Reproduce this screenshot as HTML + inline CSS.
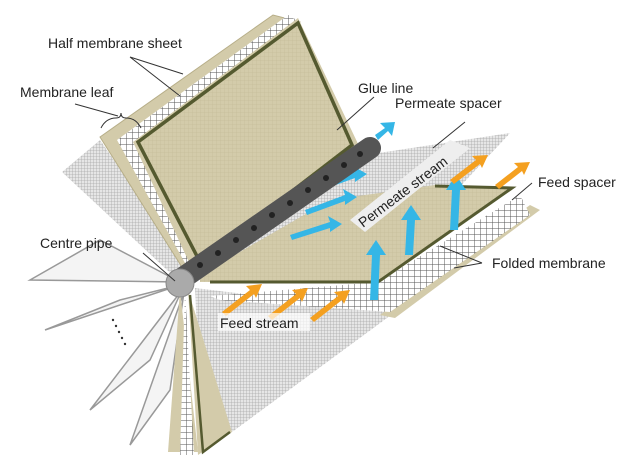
<!DOCTYPE html>
<html><head><meta charset="utf-8"><style>
body{margin:0;background:#fff}
svg{display:block}
text{font-family:"Liberation Sans",sans-serif;font-size:14px;fill:#222}
</style></head><body>
<svg width="639" height="473" viewBox="0 0 639 473">
<defs>
<pattern id="g" width="3" height="3" patternUnits="userSpaceOnUse"><rect width="3" height="3" fill="#e6e6e6"/><path d="M0 0H3M0 0V3" stroke="#aaa" stroke-width="0.8"/></pattern>
<pattern id="c" width="6" height="6" patternUnits="userSpaceOnUse"><rect width="6" height="6" fill="#fff"/><path d="M0 0H6M0 0V6" stroke="#555" stroke-width="1"/></pattern>
<pattern id="t" width="4" height="4" patternUnits="userSpaceOnUse"><rect width="4" height="4" fill="#d3cbaa"/><path d="M0 0H4M0 0V4" stroke="#c2b994" stroke-width="0.6"/></pattern>
</defs>
<g fill="#f4f4f4" stroke="#999" stroke-width="1.5">
<polygon points="180,282 30,280 100,240"/>
<polygon points="180,285 45,330 120,300"/>
<polygon points="182,290 90,410 150,360"/>
<polygon points="184,292 130,445 170,390"/>
</g>
<polygon points="62,172 100,140 190,270 180,282" fill="url(#g)"/>
<polygon points="100,137 273,15 300,22 185,272" fill="#d3cbaa" stroke="#b7ae88"/>
<polygon points="117,140 288,15 300,22 190,272" fill="url(#c)"/>
<polygon points="133,142 298,18 360,148 195,275" fill="#d3cbaa"/>
<polygon points="138,142 298,23 352,145 200,262" fill="url(#t)" stroke="#555a30" stroke-width="3.5"/>
<polygon points="200,280 365,155 510,133 410,240 200,282" fill="url(#g)"/>
<polygon points="195,288 395,312 232,432 200,400" fill="url(#g)"/>
<polygon points="380,315 530,205 540,210 395,318" fill="#d3cbaa"/>
<polygon points="210,296 378,282 520,195 530,215 390,312 220,300" fill="url(#c)"/>
<polygon points="200,282 378,282 510,188 435,185 330,200 200,275" fill="url(#t)"/>
<polyline points="210,282 378,282 512,188 435,186" fill="none" stroke="#555a30" stroke-width="3"/>
<polygon points="180,290 168,452 198,452" fill="#d3cbaa"/>
<polygon points="185,290 180,455 194,455" fill="url(#c)"/>
<polygon points="188,290 198,455 232,432" fill="#d3cbaa"/>
<polyline points="190,295 203,452 230,432" fill="none" stroke="#555a30" stroke-width="2.5"/>
<polygon points="350,220 450,140 470,148 365,232" fill="#eee"/>
<text x="0" y="0" transform="translate(363,228) rotate(-37)">Permeate stream</text>
<g fill="#35b6e6">
<polygon points="375,135 385,128 380,123 395,122 392,136 388,131 378,140"/>
<polygon points="290,235 330,222 328,216 342,224 330,232 330,228 292,240"/>
<polygon points="305,210 345,195 343,189 357,197 345,205 345,201 307,215"/>
<polygon points="320,185 355,172 353,166 367,174 355,182 355,178 322,190"/>
<polygon points="370,300 372,255 366,255 376,240 386,255 380,255 378,300"/>
<polygon points="405,255 407,220 401,220 411,205 421,220 415,220 413,255"/>
<polygon points="450,230 452,190 446,190 456,175 466,190 460,190 458,230"/>
</g>
<g fill="#f4a020">
<polygon points="222,312 250,290 246,286 262,284 256,298 254,294 226,316"/>
<polygon points="268,316 296,294 292,290 308,288 302,302 300,298 272,320"/>
<polygon points="310,318 338,296 334,292 350,290 344,304 342,300 314,322"/>
<polygon points="450,180 476,160 472,156 488,155 482,168 480,164 454,184"/>
<polygon points="495,185 518,167 514,163 530,162 524,175 522,171 499,189"/>
</g>
<line x1="180" y1="280" x2="370" y2="148" stroke="#555" stroke-width="22" stroke-linecap="round"/>
<g fill="#222"><circle cx="200" cy="265" r="3"/><circle cx="218" cy="253" r="3"/><circle cx="236" cy="240" r="3"/><circle cx="254" cy="228" r="3"/><circle cx="272" cy="215" r="3"/><circle cx="290" cy="203" r="3"/><circle cx="308" cy="190" r="3"/><circle cx="326" cy="178" r="3"/><circle cx="344" cy="165" r="3"/><circle cx="360" cy="154" r="3"/></g>
<circle cx="180" cy="283" r="14" fill="#aaa" stroke="#888"/>
<g fill="#333"><circle cx="113" cy="320" r="1.2"/><circle cx="116" cy="326" r="1.2"/><circle cx="119" cy="332" r="1.2"/><circle cx="122" cy="338" r="1.2"/><circle cx="125" cy="344" r="1.2"/></g>
<g stroke="#333" stroke-width="1" fill="none">
<path d="M130 57 L183 74 M130 57 L180 96"/>
<path d="M75 104 L118 116"/>
<path d="M101 128 q5 -10 15 -10 q5 0 5 -5 q0 5 5 5 q10 0 15 10"/>
<path d="M374 97 L337 130"/>
<path d="M465 122 L433 148"/>
<path d="M532 183 L512 200"/>
<path d="M482 263 L440 246 M482 263 L454 268"/>
<path d="M143 253 L175 281"/>
</g>
<text x="48" y="48">Half membrane sheet</text>
<text x="20" y="97">Membrane leaf</text>
<text x="358" y="93">Glue line</text>
<text x="395" y="108">Permeate spacer</text>
<text x="538" y="187">Feed spacer</text>
<text x="492" y="268">Folded membrane</text>
<text x="40" y="248">Centre pipe</text>
<rect x="218" y="313" width="92" height="18" fill="#fff" opacity="0.7"/>
<text x="220" y="328">Feed stream</text>
</svg>
</body></html>
